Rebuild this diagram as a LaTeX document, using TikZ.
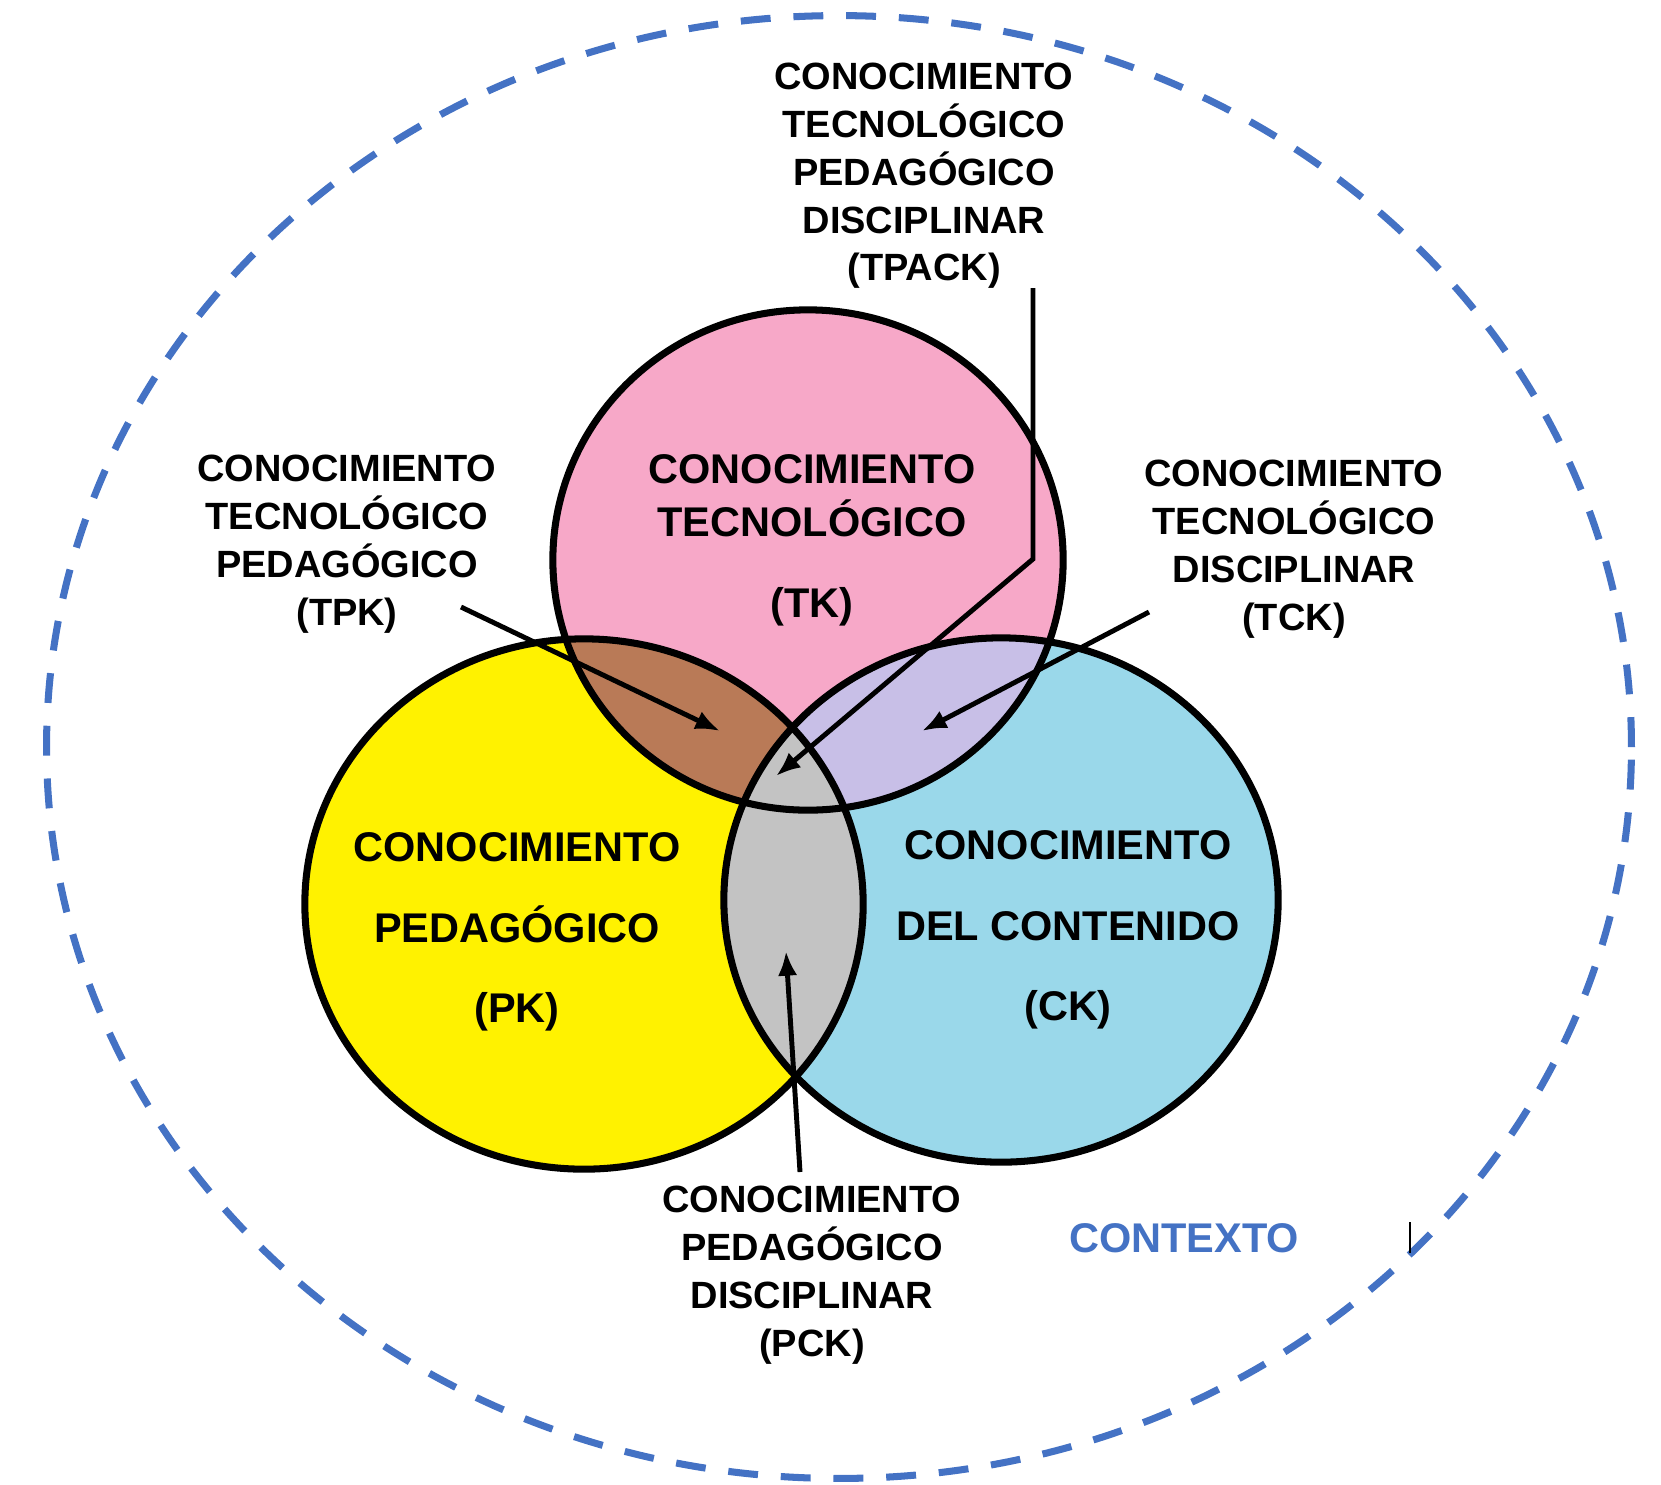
\documentclass[tikz,border=0pt]{standalone}
\usepackage{fontspec}
\setmainfont{Liberation Sans}
\usetikzlibrary{arrows.meta}
\definecolor{pkyellow}{HTML}{FFF200}
\definecolor{tkpink}{HTML}{F7A8C8}
\definecolor{ckblue}{HTML}{9AD8EA}
\definecolor{tpkbrown}{HTML}{B97A57}
\definecolor{tcklilac}{HTML}{C8BFE7}
\definecolor{pckgray}{HTML}{C3C3C3}
\definecolor{ctxblue}{HTML}{4472C4}
\tikzset{
  small label/.style={align=center, font=\bfseries\fontsize{10.8}{13.6}\selectfont},
  big label/.style={align=center, font=\bfseries\fontsize{11.8}{22.9}\selectfont},
  pointer/.style={line width=1.4pt, -{Latex[length=7pt,width=5.5pt]}},
  ring/.style={line width=2pt}
}
\begin{document}
\begin{tikzpicture}[x=0.01cm, y=-0.01cm]
\useasboundingbox (0,0) rectangle (1661,1484);
\coordinate (TK) at (808,560);
\coordinate (PK) at (584,904);
\coordinate (CK) at (1001,900);
\coordinate (ctx) at (839,747);
\fill [pkyellow] (PK) ellipse [x radius=2.79cm, y radius=2.65cm];
\fill [ckblue] (CK) ellipse [x radius=2.77cm, y radius=2.62cm];
\fill [tkpink] (TK) ellipse [x radius=2.55cm, y radius=2.50cm];
\begin{scope}
  \clip (TK) ellipse [x radius=2.55cm, y radius=2.50cm];
  \fill [tpkbrown] (PK) ellipse [x radius=2.79cm, y radius=2.65cm];
  \fill [tcklilac] (CK) ellipse [x radius=2.77cm, y radius=2.62cm];
\end{scope}
\begin{scope}
  \clip (PK) ellipse [x radius=2.79cm, y radius=2.65cm];
  \fill [pckgray] (CK) ellipse [x radius=2.77cm, y radius=2.62cm];
\end{scope}
\draw [ring] (PK) ellipse [x radius=2.79cm, y radius=2.65cm];
\draw [ring] (CK) ellipse [x radius=2.77cm, y radius=2.62cm];
\draw [ring] (TK) ellipse [x radius=2.55cm, y radius=2.50cm];
\draw [ctxblue, line width=2pt, dash pattern=on 8.5pt off 6.5pt]
    (ctx) ellipse [x radius=7.92cm, y radius=7.31cm];

\node [big label, font=\bfseries\fontsize{11.8}{15}\selectfont] (tk label) at (812,540)
    {CONOCIMIENTO\\TECNOLÓGICO\\[8pt](TK)};
\node [big label] (pk label) at (517,932) {CONOCIMIENTO\\PEDAGÓGICO\\(PK)};
\node [big label] (ck label) at (1068,930) {CONOCIMIENTO\\DEL CONTENIDO\\(CK)};
\node [small label] (tpack label) at (924,176)
    {CONOCIMIENTO\\TECNOLÓGICO\\PEDAGÓGICO\\DISCIPLINAR\\(TPACK)};
\node [small label] (tpk label) at (347,544)
    {CONOCIMIENTO\\TECNOLÓGICO\\PEDAGÓGICO\\(TPK)};
\node [small label] (tck label) at (1294,549)
    {CONOCIMIENTO\\TECNOLÓGICO\\DISCIPLINAR\\(TCK)};
\node [small label] (pck label) at (812,1275)
    {CONOCIMIENTO\\PEDAGÓGICO\\DISCIPLINAR\\(PCK)};
\node [font=\bfseries\fontsize{11.8}{14}\selectfont, text=ctxblue] (contexto) at (1184,1238) {CONTEXTO};

\coordinate (tpk start) at (461,607);
\coordinate (tpk tip) at (720,731);
\coordinate (tck start) at (1149,612);
\coordinate (tck tip) at (922,731);
\coordinate (tpack start) at (1033,288);
\coordinate (tpack bend) at (1033,559);
\coordinate (tpack tip) at (776,776);
\coordinate (pck start) at (800,1172);
\coordinate (pck tip) at (786,951);
\draw [pointer] (tpk start) -- (tpk tip);
\draw [pointer] (tck start) -- (tck tip);
\draw [pointer] (tpack start) -- (tpack bend) -- (tpack tip);
\draw [pointer] (pck start) -- (pck tip);

\coordinate (cursor top) at (1410,1222);
\coordinate (cursor bottom) at (1410,1253);
\draw [line width=0.6pt] (cursor top) -- (cursor bottom);
\end{tikzpicture}
\end{document}
